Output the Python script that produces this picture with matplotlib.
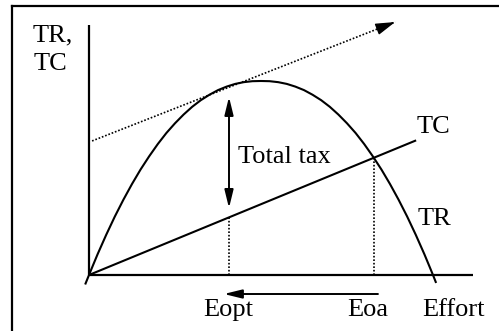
import matplotlib
matplotlib.use("Agg")
import matplotlib.pyplot as plt
from matplotlib.lines import Line2D

# ---- data (effort units: 0 = origin, 100 = TR root; value units: TR peak = 100)
tr_effort = [-1, 0, 1, 2.5, 5, 7.5, 10, 12.5, 15, 17.5, 20, 22.5, 25, 27.5, 30, 32.5, 35, 37.5,
             40, 42.5, 45, 47.5, 50, 52.5, 55, 57.5, 60, 62.5, 65, 67.5, 70, 72.5, 75, 77.5,
             80, 82.5, 85, 87.5, 90, 92.5, 95, 97.5, 99, 100, 100.8]
tr_value = [-4.4, 0, 4.3, 10.7, 20.7, 30.1, 38.8, 46.9, 54.4, 61.2, 67.5, 73.2, 78.2, 82.7, 86.7, 90.1, 92.9, 95.3,
            97.1, 98.5, 99.4, 99.9, 100, 99.9, 99.4, 98.5, 97.1, 95.3, 92.9, 90.1, 86.7, 82.7, 78.2, 73.2,
            67.5, 61.2, 54.4, 46.9, 38.8, 30.1, 20.7, 10.7, 4.3, 0, -3.6]
tc_effort = [0, 95.1]
tc_value = [0, 69.4]
tangent_effort = [0.9, 89.0]
tangent_value = [69.1, 130.4]
e_opt = 40.7
e_oa = 82.8
tax_top = 91.8
tax_bottom = 34.5
tc_at_eopt = 29.7
tr_at_eoa = 60.3
shift_arrow_level = -9.8
shift_from = 84.0
shift_to = 39.2
x_axis_end = 111.6
y_axis_end = 128.9

labels = {
    "TR,": (-16.3, 120.6),
    "TC_axis": (-16.0, 105.7),
    "TC": (95.3, 73.2),
    "TR": (95.6, 25.8),
    "Total tax": (43.3, 57.7),
    "Eopt": (33.1, -21.1),
    "Eoa": (75.0, -21.1),
    "Effort": (96.8, -21.1),
}

plt.rcParams['font.family'] = ['Liberation Serif', 'DejaVu Serif']
fig = plt.figure(figsize=(4.99, 3.31), dpi=100)
ax = fig.add_axes([0, 0, 1, 1])
ax.set_xlim(-25.87, 119.19)
ax.set_ylim(-28.87, 141.75)
ax.axis('off')

lw = 1.5
# axes
ax.plot([0, 0], [0, y_axis_end], color='black', lw=1.6, solid_capstyle='butt')
ax.plot([0, x_axis_end], [0, 0], color='black', lw=1.6, solid_capstyle='butt')

# TR curve
ax.plot(tr_effort, tr_value, color='black', lw=lw, solid_joinstyle='round')
# TC line
ax.plot(tc_effort, tc_value, color='black', lw=lw, solid_capstyle='butt')

dot = (0, (1, 1.1))
# tangent dotted line with arrow head
ax.plot(tangent_effort, tangent_value, color='black', lw=1.2, linestyle=dot)
dx = tangent_effort[1] - tangent_effort[0]
dy = tangent_value[1] - tangent_value[0]
ax.annotate('', xy=(tangent_effort[1], tangent_value[1]),
            xytext=(tangent_effort[1] - 0.06 * dx, tangent_value[1] - 0.06 * dy),
            arrowprops=dict(arrowstyle='-|>,head_length=1.0,head_width=0.3', color='black',
                            lw=1.0, shrinkA=0, shrinkB=0, mutation_scale=12))

# vertical dotted lines
ax.plot([e_opt, e_opt], [0, tc_at_eopt], color='black', lw=1.2, linestyle=dot)
ax.plot([e_oa, e_oa], [0, tr_at_eoa], color='black', lw=1.2, linestyle=dot)

# total tax double arrow
ax.annotate('', xy=(e_opt, tax_top), xytext=(e_opt, tax_bottom),
            arrowprops=dict(arrowstyle='<|-|>,head_length=0.9,head_width=0.22', color='black',
                            lw=1.4, shrinkA=0, shrinkB=0, mutation_scale=12))

# shift arrow under the axis
ax.annotate('', xy=(shift_to, shift_arrow_level), xytext=(shift_from, shift_arrow_level),
            arrowprops=dict(arrowstyle='-|>,head_length=0.9,head_width=0.22', color='black',
                            lw=1.4, shrinkA=0, shrinkB=0, mutation_scale=12))

fs = 19
for key, (x, y) in labels.items():
    txt = "TC" if key == "TC_axis" else key
    ax.text(x, y, txt, fontsize=fs, ha='left', va='baseline', color='black')

# outer frame (top and left edges visible)
fx = 12 / 499
fy = 1 - 6 / 331
fig.add_artist(Line2D([fx, fx], [0, fy], transform=fig.transFigure, color='black', lw=1.6))
fig.add_artist(Line2D([fx, 1], [fy, fy], transform=fig.transFigure, color='black', lw=1.6))

fig.savefig('out.png', dpi=100)
